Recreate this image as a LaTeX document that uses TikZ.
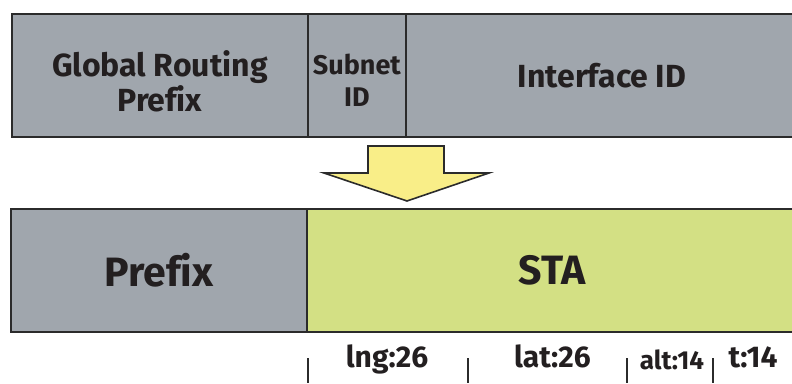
\documentclass[tikz,border=0pt]{standalone}
\usepackage{fontspec}
\setmainfont{Fira Sans}[Ligatures=NoCommon]
\definecolor{fieldgray}{HTML}{A0A6AD}
\definecolor{stagreen}{HTML}{D3E084}
\definecolor{arrowyellow}{HTML}{F9EE88}
\definecolor{edge}{HTML}{2B2B2B}
\definecolor{inktext}{HTML}{231F20}
\begin{document}
\begin{tikzpicture}[x=1pt,y=1pt,
  field/.style={draw=edge, line width=1.8pt, fill=fieldgray, inner sep=0pt,
    minimum height=123pt, anchor=south west, align=center, text=inktext},
  caption/.style={align=center, text=inktext, inner sep=0pt},
  toptext/.style={font=\fontsize{32}{35}\selectfont\bfseries},
  subtext/.style={font=\fontsize{27}{32}\selectfont\bfseries},
  bigtext/.style={font=\fontsize{41}{46}\selectfont\bfseries},
  bitlabel/.style={font=\fontsize{30}{34}\selectfont\bfseries, text=inktext, inner sep=0pt, anchor=base},
  smalllabel/.style={font=\fontsize{26}{30}\selectfont\bfseries, text=inktext, inner sep=0pt, anchor=base},
  tick/.style={draw=edge, line width=1.8pt},
]
\useasboundingbox (0,0) rectangle (792,383);

% IPv6 address layout
\node[field, minimum width=296pt] (grp) at (11,245) {};
\node[field, minimum width=98pt] (sub) at (307,245) {};
\node[field, toptext, minimum width=392pt] (iid) at (405,245) {Interface ID};
\node[caption, toptext] (grptext) at ([yshift=-6pt]grp.center) {Global Routing\\Prefix};
\node[caption, subtext] (subtext) at ([yshift=-5pt]sub.center) {Subnet\\ID};

% transformation arrow
\coordinate (a1) at (368,237);
\coordinate (a2) at (444,237);
\coordinate (a3) at (444,210);
\coordinate (a4) at (489,210);
\coordinate (tip) at (407,182);
\coordinate (a6) at (324,210);
\coordinate (a7) at (368,210);
\draw[edge, line width=1.6pt, fill=arrowyellow, line join=miter]
  (a1) -- (a2) -- (a3) -- (a4) -- (tip) -- (a6) -- (a7) -- cycle;

% resulting address layout
\node[field, bigtext, minimum width=296pt] (pfx) at (10,50) {Prefix};
\node[field, bigtext, fill=stagreen, minimum width=490pt] (sta) at (306,50) {STA};

% bit widths of the STA fields
\node[bitlabel] (lng) at (387,16) {lng:26};
\node[bitlabel] (lat) at (552.5,16) {lat:26};
\node[smalllabel] (alt) at (672,14) {alt:14};
\node[bitlabel] (t) at (753,16) {t:14};

\draw[tick] (308,25) -- (308,0);
\draw[tick] (468,25) -- (468,0);
\draw[tick] (627,25) -- (627,0);
\draw[tick] (713,25) -- (713,0);
\end{tikzpicture}
\end{document}
